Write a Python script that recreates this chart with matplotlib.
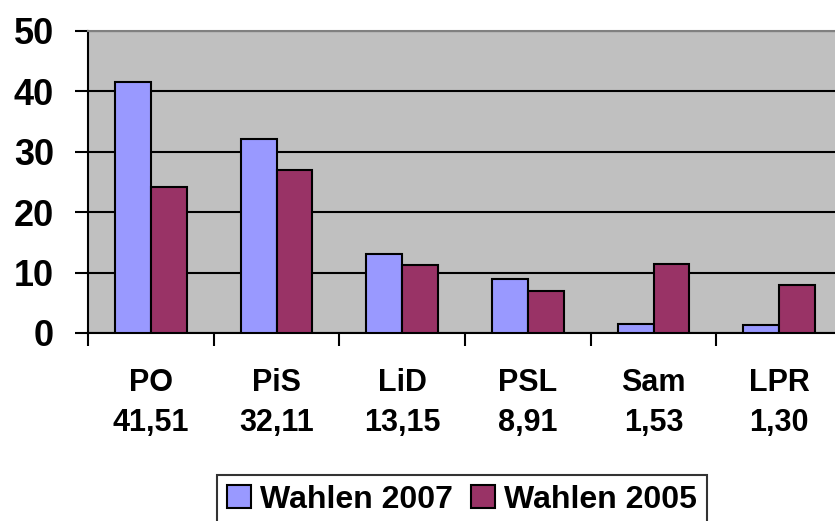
import matplotlib
matplotlib.use("Agg")
import matplotlib.pyplot as plt
import numpy as np
from matplotlib.patches import Patch

parties = ["PO", "PiS", "LiD", "PSL", "Sam", "LPR"]
labels2 = ["41,51", "32,11", "13,15", "8,91", "1,53", "1,30"]
v2007 = [41.51, 32.11, 13.15, 8.91, 1.53, 1.30]
v2005 = [24.14, 26.99, 11.31, 6.96, 11.41, 7.97]
series_names = ["Wahlen 2007", "Wahlen 2005"]
yticks = [0, 10, 20, 30, 40, 50]

plt.rcParams['font.family'] = ['Liberation Sans', 'DejaVu Sans']
plt.rcParams['font.weight'] = 'bold'

W, H = 835, 521
fig = plt.figure(figsize=(W/100, H/100), dpi=100)
left, right, top, bottom = 88, 842, 31, 333
ax = fig.add_axes([left/W, 1-bottom/H, (right-left)/W, (bottom-top)/H])
ax.set_facecolor('#C0C0C0')

x = np.arange(len(parties))
bw = 0.286
ax.bar(x - bw/2, v2007, bw, color='#9999FF', edgecolor='black', linewidth=1.5, zorder=3)
ax.bar(x + bw/2, v2005, bw, color='#993366', edgecolor='black', linewidth=1.5, zorder=3)

ax.set_xlim(-0.5, len(parties)-0.5)
ax.set_ylim(0, 50)
ax.set_yticks(yticks)
ax.set_yticklabels([str(t) for t in yticks], fontsize=26, fontweight='bold')
ax.yaxis.grid(True, color='black', linewidth=1.5, zorder=1)
ax.set_axisbelow(True)

ax.set_xticks(np.arange(len(parties)+1) - 0.5, minor=False)
ax.set_xticklabels([])
ax.set_xticks(x, minor=True)
ax.set_xticklabels([f"{p}\n{l}" for p, l in zip(parties, labels2)], minor=True,
                   fontsize=22, fontweight='bold', linespacing=1.45)
ax.tick_params(axis='x', which='minor', length=0, pad=25)
ax.tick_params(axis='x', which='major', length=9, width=1.5, direction='out')
ax.tick_params(axis='y', length=9.5, width=1.5, direction='out', pad=15)

for s in ['left', 'bottom']:
    ax.spines[s].set_linewidth(1.5)
    ax.spines[s].set_color('black')
ax.spines['top'].set_color('#808080')
ax.spines['top'].set_linewidth(1.5)
ax.spines['right'].set_visible(False)

handles = [Patch(facecolor='#9999FF', edgecolor='black', linewidth=1.5),
           Patch(facecolor='#993366', edgecolor='black', linewidth=1.5)]
leg = fig.legend(handles, series_names, loc='upper left',
                 bbox_to_anchor=(217/W, 1-475/H),
                 prop={'weight': 'bold', 'size': 23},
                 frameon=True, fancybox=False, edgecolor='black',
                 ncol=2, handlelength=0.75, handleheight=0.75, handletextpad=0.3,
                 columnspacing=0.55, borderpad=0.3, borderaxespad=0)
leg.get_frame().set_linewidth(1.5)

fig.savefig("out.png", dpi=100)
